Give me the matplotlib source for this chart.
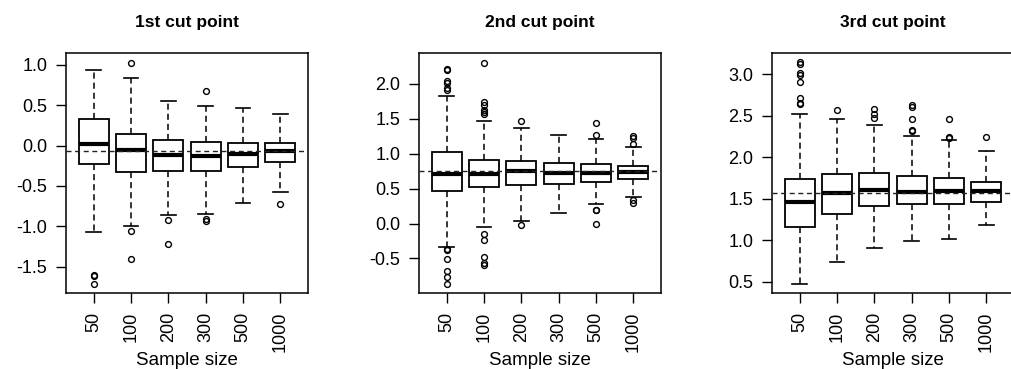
import numpy as np
import matplotlib
matplotlib.use('Agg')
import matplotlib.pyplot as plt

plt.rcParams['font.family'] = ['Liberation Sans', 'DejaVu Sans']

sizes = ['50', '100', '200', '300', '500', '1000']
titles = ['1st cut point', '2nd cut point', '3rd cut point']
true_vals = [-0.07, 0.746, 1.572]

# 1st cut point
p1_lo = [-1.066, -0.996, -0.86, -0.844, -0.707, -0.571]
p1_q1 = [-0.229, -0.324, -0.316, -0.316, -0.27, -0.208]
p1_med = [0.023, -0.06, -0.122, -0.13, -0.109, -0.072]
p1_q3 = [0.328, 0.142, 0.072, 0.043, 0.035, 0.031]
p1_hi = [0.93, 0.84, 0.555, 0.489, 0.468, 0.39]
p1_out = [[-1.60, -1.62, -1.714], [1.025, -1.06, -1.41], [-0.917, -1.216],
          [0.679, -0.913, -0.938], [], [-0.72]]

# 2nd cut point
p2_lo = [-0.336, -0.055, 0.036, 0.145, 0.284, 0.379]
p2_q1 = [0.47, 0.517, 0.556, 0.57, 0.598, 0.641]
p2_med = [0.713, 0.708, 0.746, 0.727, 0.727, 0.741]
p2_q3 = [1.018, 0.908, 0.898, 0.865, 0.846, 0.817]
p2_hi = [1.824, 1.471, 1.371, 1.271, 1.214, 1.09]
p2_out = [[2.205, 2.196, 2.039, 2.015, 1.938, 1.905, -0.364, -0.383, -0.503, -0.68, -0.766, -0.866],
          [2.30, 1.738, 1.70, 1.625, 1.60, 1.565, -0.155, -0.24, -0.479, -0.57, -0.60],
          [1.467, -0.02], [], [1.443, 1.262, 0.198, 0.19, 0.0],
          [1.245, 1.226, 1.135, 0.331, 0.293]]

# 3rd cut point
p3_lo = [0.467, 0.74, 0.909, 0.985, 1.013, 1.186]
p3_q1 = [1.162, 1.315, 1.411, 1.43, 1.437, 1.464]
p3_med = [1.456, 1.572, 1.60, 1.584, 1.59, 1.588]
p3_q3 = [1.733, 1.797, 1.81, 1.77, 1.745, 1.705]
p3_hi = [2.521, 2.464, 2.388, 2.256, 2.204, 2.071]
p3_out = [[3.144, 3.124, 3.012, 2.996, 2.911, 2.71, 2.658, 2.638], [2.565],
          [2.585, 2.525, 2.468], [2.634, 2.61, 2.461, 2.332, 2.312],
          [2.457, 2.245, 2.233], [2.241]]

panels = [
    (p1_lo, p1_q1, p1_med, p1_q3, p1_hi, p1_out, (-1.825, 1.145), [-1.5, -1.0, -0.5, 0.0, 0.5, 1.0]),
    (p2_lo, p2_q1, p2_med, p2_q3, p2_hi, p2_out, (-0.994, 2.439), [-0.5, 0.0, 0.5, 1.0, 1.5, 2.0]),
    (p3_lo, p3_q1, p3_med, p3_q3, p3_hi, p3_out, (0.362, 3.257), [0.5, 1.0, 1.5, 2.0, 2.5, 3.0]),
]

fig = plt.figure(figsize=(10.11, 3.69), dpi=100)
lefts = [66 / 1011, 419 / 1011, 772 / 1011]
pos = np.arange(1, 7)

for i, (lo, q1, med, q3, hi, out, ylim, yt) in enumerate(panels):
    ax = fig.add_axes([lefts[i], 1 - 293 / 369, 242 / 1011, 240 / 369])
    stats = []
    for k in range(6):
        stats.append({'whislo': lo[k], 'q1': q1[k], 'med': med[k], 'q3': q3[k],
                      'whishi': hi[k], 'fliers': out[k]})
    ax.bxp(stats, positions=pos, widths=0.8, capwidths=0.4, patch_artist=True,
           boxprops=dict(facecolor='white', edgecolor='black', linewidth=1.3),
           whiskerprops=dict(color='black', linewidth=1.1, linestyle=(0, (4, 2.6))),
           capprops=dict(color='black', linewidth=1.2),
           medianprops=dict(color='black', linewidth=3.0, solid_capstyle='butt'),
           flierprops=dict(marker='o', markersize=4.2, markerfacecolor='none',
                           markeredgecolor='black', markeredgewidth=1.0))
    ax.axhline(true_vals[i], color='#222222', linewidth=1.0, linestyle=(0, (3.6, 2.6)), zorder=5)
    ax.set_xlim(0.26, 6.74)
    ax.set_ylim(*ylim)
    ax.set_yticks(yt)
    ax.set_yticklabels(['%.1f' % v for v in yt])
    ax.set_xticks(pos)
    ax.set_xticklabels(sizes, rotation=90)
    ax.tick_params(axis='both', length=7.5, width=1.0, pad=6, labelsize=13)
    for sp in ax.spines.values():
        sp.set_linewidth(1.1)
    ax.set_xlabel('Sample size', fontsize=13.5, labelpad=0)
    ax.set_title(titles[i], fontsize=12.5, fontweight='bold', pad=19)

fig.savefig('out.png', dpi=100)
